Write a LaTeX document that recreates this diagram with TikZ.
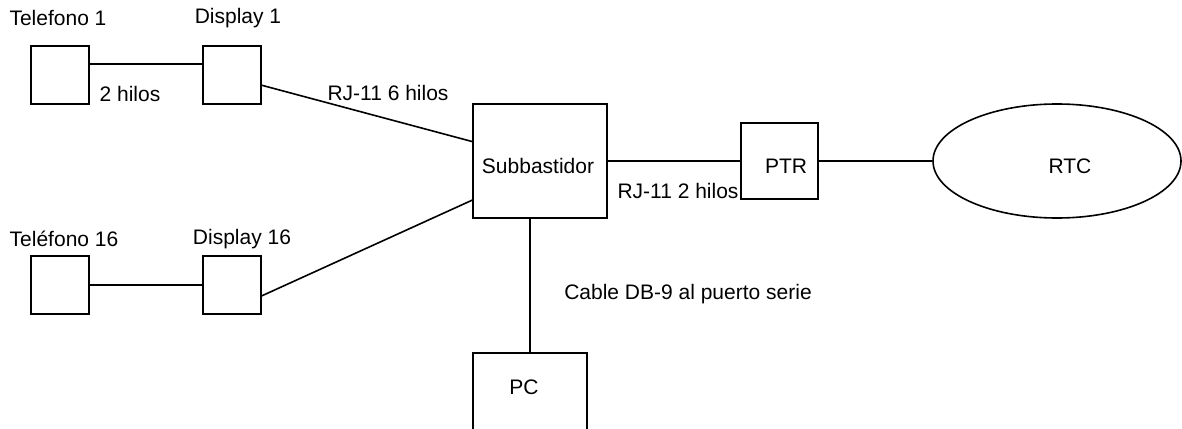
\documentclass[tikz,border=0pt]{standalone}
\usepackage{fontspec}
\setmainfont{Liberation Sans}
\usetikzlibrary{positioning, shapes.geometric}
\tikzset{
    netbox/.style={draw=black, line width=0.8pt, inner sep=0pt,
                minimum width=#1, minimum height=#1, align=center},
    netbox/.default=29pt,
    netcloud/.style={draw=black, line width=0.8pt, ellipse, inner sep=0pt,
                minimum width=124pt, minimum height=57pt},
    netline/.style={line width=0.8pt, black},
    netlbl/.style={font=\fontsize{10.5}{12}\selectfont, inner sep=0pt},
}
\begin{document}
\begin{tikzpicture}[x=0.5pt, y=-0.5pt]

    \useasboundingbox (0,0) rectangle (1182,428);
    \clip (0,0) rectangle (1182,428);

    \node[netlbl] (l1) at (58, 18) {Telefono 1};
    \node[netlbl] (l2) at (238, 18) {Display 1};
    \node[netbox] (tel1) at (60, 75) {};
    \node[netbox] (dis1) at (232, 75) {};
    \node[netlbl] (w1) at (130, 94) {2 hilos};

    \node[netlbl] (l3) at (64, 239) {Teléfono 16};
    \node[netlbl] (l4) at (242, 239) {Display 16};
    \node[netbox] (tel16) at (60, 285) {};
    \node[netbox] (dis16) at (232, 285) {};

    \node[netbox, minimum width=67pt, minimum height=57pt] (sub) at (540, 161) {};
    \node[netlbl] (subl) at (538, 166) {Subbastidor};
    \node[netbox, minimum width=38.5pt, minimum height=38pt] (ptr) at (779.5, 161) {};
    \node[netlbl] (ptrl) at (786, 166) {PTR};
    \node[netcloud] (rtc) at (1057, 161) {};
    \node[netlbl] (rtcl) at (1070, 166) {RTC};
    \node[netbox, minimum width=57pt, minimum height=50pt, anchor=north] (pc) at (530, 352) {};
    \node[netlbl] (pcl) at (524, 387) {PC};

    \node[netlbl] (w2) at (388, 93) {RJ-11 6 hilos};
    \node[netlbl] (w3) at (678, 191) {RJ-11 2 hilos};
    \node[netlbl] (w4) at (688, 294) {Cable DB-9 al puerto serie};

    \draw[netline] (tel1.20.8) -- (tel1.20.8 -| dis1.west);
    \draw[netline] (tel16.east) -- (dis16.west);
    \draw[netline] (dis1.-19) -- (sub.164.2);
    \draw[netline] (dis16.-20.8) -- (sub.210.2);
    \draw[netline] (sub.east) -- (ptr.west);
    \draw[netline] (ptr.east) -- (rtc.west);
    \draw[netline] (sub.south -| pc.north) -- (pc.north);

\end{tikzpicture}
\end{document}
